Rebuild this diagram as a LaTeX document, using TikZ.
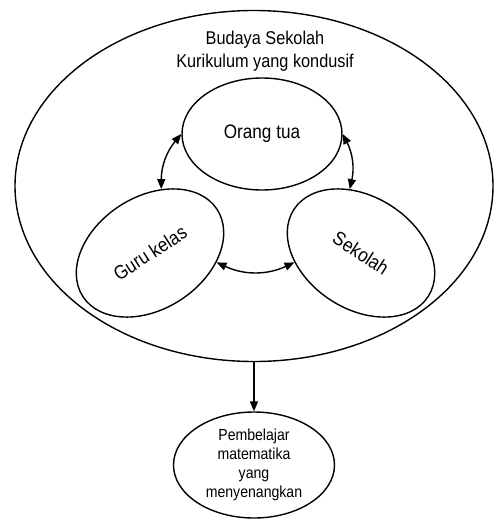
\documentclass[tikz,border=0pt]{standalone}
\usepackage{fontspec}
\setmainfont[FakeStretch=0.88]{Liberation Sans}
\usetikzlibrary{shapes.geometric, arrows.meta, positioning}

\tikzset{
  bubble/.style={ellipse, draw, inner sep=0pt, minimum width=160pt, minimum height=112pt, align=center},
  tip/.style={Triangle[length=10pt,width=8pt]},
  link/.style={{Triangle[length=10pt,width=8pt]}-{Triangle[length=10pt,width=8pt]}},
}

\begin{document}
\begin{tikzpicture}[x=1pt, y=-1pt, line width=1.4pt]
  \useasboundingbox (0,0) rectangle (497,519);

  % Outer ellipse: the school culture
  \node[ellipse, draw, minimum width=478pt, minimum height=351pt] (budaya) at (254,186) {};
  \node[align=center, font=\fontsize{18.5}{23}\selectfont] (judul) at (265,51) {Budaya Sekolah\\Kurikulum yang kondusif};

  % The three parties
  \node[bubble, font=\fontsize{19.5}{23}\selectfont] (ortu) at (262,134) {Orang tua};
  \node[bubble, rotate=33, font=\fontsize{19.5}{23}\selectfont] (guru) at (150,253) {Guru kelas};
  \node[bubble, rotate=-33, font=\fontsize{19.5}{23}\selectfont] (sekolah) at (361,253) {Sekolah};

  % Outcome
  \node[bubble, minimum width=161pt, minimum height=106pt, font=\fontsize{16}{19}\selectfont] (hasil) at (254,465) {Pembelajar\\matematika\\yang\\menyenangkan};

  \draw[link] (ortu.west) to[bend right=20] (guru.47);
  \draw[link] (ortu.east) to[bend left=20] (sekolah.133);
  \draw[link] (guru.-41) to[bend right=25] (sekolah.-139);
  \draw[-{Triangle[length=10pt,width=8pt]}] (budaya.south) -- (hasil.north);
\end{tikzpicture}
\end{document}
